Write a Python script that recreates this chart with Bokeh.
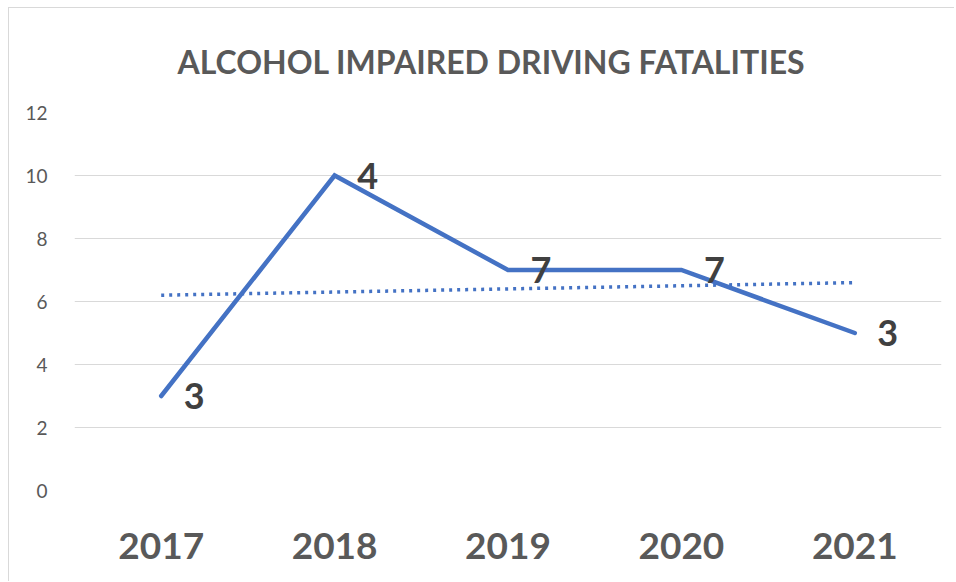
import numpy as np
from bokeh.plotting import figure
from bokeh.models import ColumnDataSource, FactorRange, Range1d, Title, FixedTicker
from bokeh.core.properties import value
from bokeh.embed import file_html
from bokeh.resources import INLINE

# ---- data ----
years = ["2017", "2018", "2019", "2020", "2021"]
fatalities = [3, 10, 7, 7, 5]
point_labels = ["3", "4", "7", "7", "3"]
y_ticks = [0, 2, 4, 6, 8, 10, 12]
chart_title = "ALCOHOL IMPAIRED DRIVING FATALITIES"

# linear trendline fitted to the series
idx = np.arange(len(years))
slope, intercept = np.polyfit(idx, fatalities, 1)
trend = (slope * idx + intercept).tolist()

src = ColumnDataSource(dict(year=years, val=fatalities, lab=point_labels, trend=trend))

FONT = "Lato"

p = figure(
    x_range=FactorRange(*years, range_padding=0),
    y_range=Range1d(0, 12),
    width=946, height=574,
    output_backend="svg", toolbar_location=None,
    min_border_left=65, min_border_right=14,
    min_border_top=103, min_border_bottom=92,
)
p.styles = {"border-left": "1px solid #d9d9d9", "border-top": "1px solid #d9d9d9",
            "margin-left": "8px", "margin-top": "7px"}

t = Title(text=chart_title, align="left", text_font=FONT, text_font_style="bold",
          text_font_size="32px", text_color="#595959", standoff=63, offset=103)
p.add_layout(t, "above")

p.outline_line_color = None
p.background_fill_color = "white"
p.border_fill_color = "white"
p.xgrid.grid_line_color = None
p.ygrid.grid_line_color = "#d9d9d9"
p.ygrid.grid_line_width = 1

p.yaxis.ticker = FixedTicker(ticks=y_ticks)
for ax in (p.xaxis[0], p.yaxis[0]):
    ax.axis_line_color = None
    ax.major_tick_line_color = None
    ax.minor_tick_line_color = None

p.yaxis.major_label_text_font = FONT
p.yaxis.major_label_text_font_size = "19px"
p.yaxis.major_label_text_color = "#595959"
p.yaxis.major_label_standoff = 21

p.xaxis.major_label_text_font = FONT
p.xaxis.major_label_text_font_style = "bold"
p.xaxis.major_label_text_font_size = "37px"
p.xaxis.major_label_text_color = "#595959"
p.xaxis.major_label_standoff = 36

p.line(x="year", y="trend", source=src, line_color="#4472c4", line_width=3.5,
       line_dash="3 5")
p.line(x="year", y="val", source=src, line_color="#4472c4", line_width=4.5,
       line_cap="round", line_join="miter")
p.text(x="year", y="val", text="lab", source=src, x_offset=33,
       text_align="center", text_baseline="middle",
       text_font=value(FONT), text_font_style="bold", text_font_size="36px",
       text_color="#404040")

open("out.html", "w").write(file_html(p, INLINE))
